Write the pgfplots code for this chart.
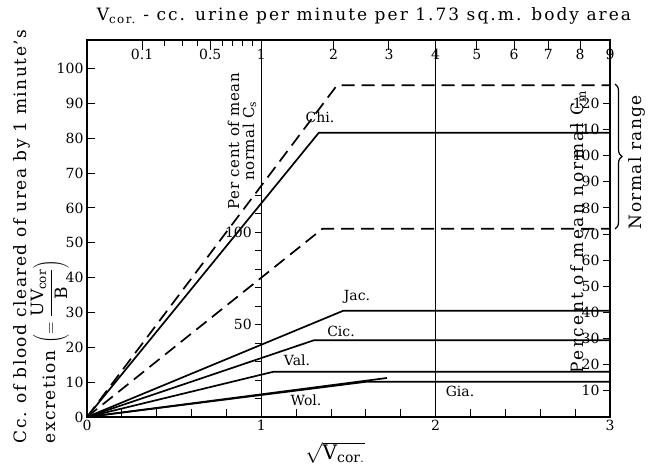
\documentclass[border=0pt]{standalone}
\usepackage{fontspec}
\setmainfont{DejaVu Serif}
\usepackage{pgfplots}
\pgfplotsset{compat=1.18}
\usetikzlibrary{decorations.pathreplacing}
\newcommand{\fs}[1]{\fontsize{#1}{#1}\selectfont}
\newcommand{\ls}[1]{\addfontfeatures{LetterSpace=#1}}
\begin{document}
\begin{tikzpicture}
\path[use as bounding box] (-87pt,-55pt) rectangle (561pt,417pt);
\pgfplotsset{
  common/.style={scale only axis, anchor=south west,
    /pgf/number format/assume math mode=true,
    tick label style={font=\fs{14}},
    axis line style={line width=1.3pt, black},
    tick style={line width=1pt, black},
    clip=false},
  curve/.style={black, line width=1.7pt, no markers},
  dcurve/.style={black, line width=1.7pt, no markers, dash pattern=on 13pt off 7pt},
}
% main axis
\begin{axis}[common, at={(0pt,0pt)}, width=523pt, height=377pt,
  xmin=0, xmax=3, ymin=0, ymax=108.2,
  xtick={0,1,2,3},
  minor xtick={0.2,0.4,0.6,0.8,1.2,1.4,1.6,1.8,2.2,2.4,2.6,2.8},
  ytick={0,10,...,100},
  xtick pos=left, ytick pos=left, tick align=inside,
  major tick length=8pt, minor tick length=8pt]
\addplot[black, line width=1.2pt] coordinates {(2,0) (2,108.2)};
\addplot[dcurve] coordinates {(0,0) (1.434,95.2) (3,95.2)};
\addplot[dcurve] coordinates {(0,0) (1.35,54) (3,54)};
\addplot[curve] coordinates {(0,0) (1.33,81.6) (3,81.6)};
\addplot[curve] coordinates {(0,0) (1.47,30.5) (3,30.5)};
\addplot[curve] coordinates {(0,0) (1.30,22) (3,22)};
\addplot[curve] coordinates {(0,0) (1.07,13) (3,13)};
\addplot[curve] coordinates {(0,0) (1.60,10.1) (3,10.1)};
\addplot[curve] coordinates {(0,0) (1.72,11.2)};
\end{axis}
% top V scale
\begin{axis}[common, at={(0pt,0pt)}, width=523pt, height=377pt,
  xmin=0, xmax=3, ymin=0, ymax=1,
  axis y line=none, axis x line*=top,
  xtick pos=right, xticklabel pos=right,
  xtick={0.31623,0.70711,1,1.41421,1.73205,2,2.23607,2.44949,2.64575,2.82843,3},
  xticklabels={0.1,0.5,1,2,3,4,5,6,7,8,9},
  minor xtick={0.44721,0.54772,0.63246,0.77460,0.83666,0.89443,0.94868},
  tick align=inside, major tick length=10pt, minor tick length=6pt,
  xticklabel style={anchor=north, yshift=-6pt}]
\end{axis}
% Cs scale on x=1
\begin{axis}[common, at={(174.333pt,0pt)}, width=348.667pt, height=377pt,
  xmin=0, xmax=1, ymin=0, ymax=204.15,
  axis x line=none, axis y line*=left,
  ytick pos=left, yticklabel pos=left,
  ytick={50,100}, minor ytick={10,20,30,40,60,70,80,90,110,120},
  tick align=outside, major tick length=6pt, minor tick length=6pt]
\end{axis}
% Cm scale on right
\begin{axis}[common, at={(0pt,0pt)}, width=523pt, height=377pt,
  xmin=0, xmax=3, ymin=0, ymax=144.27,
  axis x line=none, axis y line*=right,
  ytick pos=right, yticklabel pos=right,
  ytick={10,20,...,120},
  tick align=inside, major tick length=7pt,
  yticklabel style={anchor=east, xshift=-7pt}]
\end{axis}
% texts
\node[font=\fs{17}\ls{12}] at (277pt,401pt) {V\textsubscript{cor.} - cc. urine per minute per 1.73 sq.m. body area};
\node[rotate=90, anchor=north west, align=left, font=\fs{17}\ls{9}] at (-77pt,-30pt)
  {Cc. of blood cleared of urea by 1 minute's\\[0pt]
   excretion $\displaystyle\left(=\frac{\mathrm{UV_{cor}}}{\mathrm{B}}\right)$};
\node[font=\fs{20}] at (248pt,-36pt) {$\sqrt{\mathrm{V}_{\mathrm{cor.}}}$};
\node[rotate=90, align=center, font=\fs{15}\ls{4}] at (155pt,276pt) {Per cent of mean\\normal C\textsubscript{s}};
\node[rotate=90, font=\fs{17}\ls{14}] at (491pt,185pt) {Percent of mean normal C\textsubscript{m}};
\node[rotate=90, font=\fs{17}\ls{8}] at (550pt,255pt) {Normal range};
\draw[line width=1.2pt, decorate, decoration={brace, amplitude=7pt}] (528pt,333pt) -- (528pt,188pt);
\node[font=\fs{14}] at (233pt,300pt) {Chi.};
\node[font=\fs{14}] at (270pt,120pt) {Jac.};
\node[font=\fs{14}] at (254pt,86pt) {Cic.};
\node[font=\fs{14}] at (210pt,57pt) {Val.};
\node[font=\fs{14}] at (219pt,17pt) {Wol.};
\node[font=\fs{14}] at (373pt,26pt) {Gia.};
\end{tikzpicture}
\end{document}
